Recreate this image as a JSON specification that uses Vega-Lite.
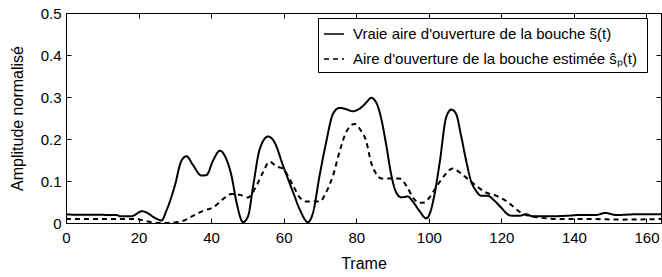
{
  "$schema": "https://vega.github.io/schema/vega-lite/v6.json",
  "autosize": "none",
  "width": 595,
  "height": 210,
  "padding": {"left": 66, "top": 13, "right": 1, "bottom": 54},
  "background": "white",
  "config": {
    "view": {"stroke": "black", "strokeWidth": 1},
    "font": "Liberation Sans",
    "axis": {"labelFont": "Liberation Sans", "titleFont": "Liberation Sans", "labelColor": "black", "titleColor": "black", "titleFontWeight": "normal", "labelFontSize": 15, "titleFontSize": 16, "domain": false, "tickColor": "black", "tickWidth": 1, "grid": false}
  },
  "datasets": {
    "curves": [
      {"trame": 0, "amp": 0.021, "serie": "vraie"},
      {"trame": 1, "amp": 0.02, "serie": "vraie"},
      {"trame": 14, "amp": 0.019, "serie": "vraie"},
      {"trame": 15, "amp": 0.016, "serie": "vraie"},
      {"trame": 18, "amp": 0.016, "serie": "vraie"},
      {"trame": 21, "amp": 0.028, "serie": "vraie"},
      {"trame": 25, "amp": 0.01, "serie": "vraie"},
      {"trame": 26.3, "amp": 0.006, "serie": "vraie"},
      {"trame": 27.7, "amp": 0.03, "serie": "vraie"},
      {"trame": 30, "amp": 0.089, "serie": "vraie"},
      {"trame": 31.8, "amp": 0.148, "serie": "vraie"},
      {"trame": 33.2, "amp": 0.159, "serie": "vraie"},
      {"trame": 35, "amp": 0.138, "serie": "vraie"},
      {"trame": 37.3, "amp": 0.113, "serie": "vraie"},
      {"trame": 38.7, "amp": 0.114, "serie": "vraie"},
      {"trame": 40.5, "amp": 0.148, "serie": "vraie"},
      {"trame": 42.4, "amp": 0.172, "serie": "vraie"},
      {"trame": 44.2, "amp": 0.152, "serie": "vraie"},
      {"trame": 45.6, "amp": 0.113, "serie": "vraie"},
      {"trame": 47, "amp": 0.049, "serie": "vraie"},
      {"trame": 48.8, "amp": 0.002, "serie": "vraie"},
      {"trame": 50.2, "amp": 0.017, "serie": "vraie"},
      {"trame": 51.6, "amp": 0.089, "serie": "vraie"},
      {"trame": 53.4, "amp": 0.176, "serie": "vraie"},
      {"trame": 55.7, "amp": 0.206, "serie": "vraie"},
      {"trame": 57.5, "amp": 0.192, "serie": "vraie"},
      {"trame": 59.8, "amp": 0.137, "serie": "vraie"},
      {"trame": 62.6, "amp": 0.073, "serie": "vraie"},
      {"trame": 64.4, "amp": 0.033, "serie": "vraie"},
      {"trame": 66.7, "amp": 0.002, "serie": "vraie"},
      {"trame": 68.1, "amp": 0.025, "serie": "vraie"},
      {"trame": 69.9, "amp": 0.113, "serie": "vraie"},
      {"trame": 71.7, "amp": 0.192, "serie": "vraie"},
      {"trame": 73.6, "amp": 0.26, "serie": "vraie"},
      {"trame": 75.4, "amp": 0.274, "serie": "vraie"},
      {"trame": 77.2, "amp": 0.271, "serie": "vraie"},
      {"trame": 79, "amp": 0.266, "serie": "vraie"},
      {"trame": 80.9, "amp": 0.272, "serie": "vraie"},
      {"trame": 82.8, "amp": 0.287, "serie": "vraie"},
      {"trame": 84.1, "amp": 0.298, "serie": "vraie"},
      {"trame": 85.5, "amp": 0.287, "serie": "vraie"},
      {"trame": 86.9, "amp": 0.248, "serie": "vraie"},
      {"trame": 88.3, "amp": 0.184, "serie": "vraie"},
      {"trame": 89.6, "amp": 0.117, "serie": "vraie"},
      {"trame": 91, "amp": 0.073, "serie": "vraie"},
      {"trame": 92.4, "amp": 0.061, "serie": "vraie"},
      {"trame": 94.2, "amp": 0.063, "serie": "vraie"},
      {"trame": 95.6, "amp": 0.051, "serie": "vraie"},
      {"trame": 97.4, "amp": 0.029, "serie": "vraie"},
      {"trame": 99.3, "amp": 0.011, "serie": "vraie"},
      {"trame": 100.2, "amp": 0.021, "serie": "vraie"},
      {"trame": 101.6, "amp": 0.069, "serie": "vraie"},
      {"trame": 103, "amp": 0.144, "serie": "vraie"},
      {"trame": 104.8, "amp": 0.252, "serie": "vraie"},
      {"trame": 106.2, "amp": 0.27, "serie": "vraie"},
      {"trame": 107.5, "amp": 0.26, "serie": "vraie"},
      {"trame": 108.9, "amp": 0.208, "serie": "vraie"},
      {"trame": 110.3, "amp": 0.148, "serie": "vraie"},
      {"trame": 111.6, "amp": 0.101, "serie": "vraie"},
      {"trame": 113, "amp": 0.077, "serie": "vraie"},
      {"trame": 114.4, "amp": 0.065, "serie": "vraie"},
      {"trame": 116.2, "amp": 0.065, "serie": "vraie"},
      {"trame": 118.1, "amp": 0.053, "serie": "vraie"},
      {"trame": 119.9, "amp": 0.037, "serie": "vraie"},
      {"trame": 121.7, "amp": 0.021, "serie": "vraie"},
      {"trame": 123.1, "amp": 0.017, "serie": "vraie"},
      {"trame": 124.9, "amp": 0.017, "serie": "vraie"},
      {"trame": 126.8, "amp": 0.021, "serie": "vraie"},
      {"trame": 128.6, "amp": 0.016, "serie": "vraie"},
      {"trame": 133.2, "amp": 0.016, "serie": "vraie"},
      {"trame": 137.7, "amp": 0.017, "serie": "vraie"},
      {"trame": 141.5, "amp": 0.019, "serie": "vraie"},
      {"trame": 146, "amp": 0.019, "serie": "vraie"},
      {"trame": 148.7, "amp": 0.024, "serie": "vraie"},
      {"trame": 151.6, "amp": 0.019, "serie": "vraie"},
      {"trame": 158, "amp": 0.021, "serie": "vraie"},
      {"trame": 164, "amp": 0.021, "serie": "vraie"},
      {"trame": 0, "amp": 0.011, "serie": "estimee"},
      {"trame": 1, "amp": 0.0095, "serie": "estimee"},
      {"trame": 19.4, "amp": 0.0095, "serie": "estimee"},
      {"trame": 21.3, "amp": 0.006, "serie": "estimee"},
      {"trame": 25.9, "amp": 0.0, "serie": "estimee"},
      {"trame": 31.4, "amp": 0.003, "serie": "estimee"},
      {"trame": 35, "amp": 0.017, "serie": "estimee"},
      {"trame": 37.8, "amp": 0.029, "serie": "estimee"},
      {"trame": 40.5, "amp": 0.037, "serie": "estimee"},
      {"trame": 43.3, "amp": 0.057, "serie": "estimee"},
      {"trame": 45.6, "amp": 0.069, "serie": "estimee"},
      {"trame": 47.9, "amp": 0.067, "serie": "estimee"},
      {"trame": 50.2, "amp": 0.061, "serie": "estimee"},
      {"trame": 52.5, "amp": 0.089, "serie": "estimee"},
      {"trame": 54.3, "amp": 0.121, "serie": "estimee"},
      {"trame": 56.1, "amp": 0.146, "serie": "estimee"},
      {"trame": 58, "amp": 0.135, "serie": "estimee"},
      {"trame": 59.8, "amp": 0.129, "serie": "estimee"},
      {"trame": 62.6, "amp": 0.089, "serie": "estimee"},
      {"trame": 64.4, "amp": 0.061, "serie": "estimee"},
      {"trame": 66.2, "amp": 0.051, "serie": "estimee"},
      {"trame": 69.9, "amp": 0.051, "serie": "estimee"},
      {"trame": 71.7, "amp": 0.073, "serie": "estimee"},
      {"trame": 73.6, "amp": 0.113, "serie": "estimee"},
      {"trame": 75.4, "amp": 0.17, "serie": "estimee"},
      {"trame": 77.2, "amp": 0.216, "serie": "estimee"},
      {"trame": 79.5, "amp": 0.236, "serie": "estimee"},
      {"trame": 81.3, "amp": 0.22, "serie": "estimee"},
      {"trame": 82.7, "amp": 0.196, "serie": "estimee"},
      {"trame": 84.1, "amp": 0.144, "serie": "estimee"},
      {"trame": 85.5, "amp": 0.117, "serie": "estimee"},
      {"trame": 86.9, "amp": 0.106, "serie": "estimee"},
      {"trame": 91.9, "amp": 0.106, "serie": "estimee"},
      {"trame": 93.8, "amp": 0.089, "serie": "estimee"},
      {"trame": 95.6, "amp": 0.061, "serie": "estimee"},
      {"trame": 97.4, "amp": 0.048, "serie": "estimee"},
      {"trame": 98.8, "amp": 0.049, "serie": "estimee"},
      {"trame": 100.2, "amp": 0.061, "serie": "estimee"},
      {"trame": 102, "amp": 0.085, "serie": "estimee"},
      {"trame": 104.3, "amp": 0.113, "serie": "estimee"},
      {"trame": 106.6, "amp": 0.13, "serie": "estimee"},
      {"trame": 108.4, "amp": 0.121, "serie": "estimee"},
      {"trame": 110.7, "amp": 0.105, "serie": "estimee"},
      {"trame": 113, "amp": 0.089, "serie": "estimee"},
      {"trame": 115.7, "amp": 0.073, "serie": "estimee"},
      {"trame": 118.5, "amp": 0.065, "serie": "estimee"},
      {"trame": 121.2, "amp": 0.053, "serie": "estimee"},
      {"trame": 123, "amp": 0.041, "serie": "estimee"},
      {"trame": 125.3, "amp": 0.025, "serie": "estimee"},
      {"trame": 127.6, "amp": 0.017, "serie": "estimee"},
      {"trame": 130.4, "amp": 0.013, "serie": "estimee"},
      {"trame": 135, "amp": 0.0095, "serie": "estimee"},
      {"trame": 144.2, "amp": 0.0095, "serie": "estimee"},
      {"trame": 153.4, "amp": 0.008, "serie": "estimee"},
      {"trame": 164, "amp": 0.0095, "serie": "estimee"}
    ]
  },
  "data": {"name": "curves"},
  "layer": [
    {
      "mark": {"type": "line", "color": "black", "strokeWidth": 2, "interpolate": "monotone", "clip": true},
      "encoding": {
        "x": {"field": "trame", "type": "quantitative", "scale": {"domain": [0, 164], "nice": false, "zero": false},
              "axis": {"orient": "bottom", "title": "Trame", "values": [0, 20, 40, 60, 80, 100, 120, 140, 160], "offset": -5, "tickSize": 5, "labelPadding": 7, "titlePadding": 10, "labelFlush": false}},
        "y": {"field": "amp", "type": "quantitative", "scale": {"domain": [0, 0.5], "nice": false},
              "axis": {"orient": "left", "title": "Amplitude normalisé", "values": [0, 0.1, 0.2, 0.3, 0.4, 0.5], "labelExpr": "datum.value == 0 ? '0' : format(datum.value, '.1f')", "offset": -5, "tickSize": 5, "labelPadding": 5, "titlePadding": 15, "labelFlush": false}},
        "strokeDash": {"field": "serie", "type": "nominal",
          "scale": {"domain": ["vraie", "estimee"], "range": [[1, 0], [5, 4]]},
          "legend": {"title": null, "orient": "none", "legendX": 252, "legendY": 5,
            "labelExpr": "datum.value == 'vraie' ? \"Vraie aire d'ouverture de la bouche  s\u0303(t)\" : \"Aire d'ouverture de la bouche estimée  \u015d\u209a(t)\u00a0\u00a0\u00a0\"",
            "symbolType": "stroke", "symbolSize": 400, "symbolStrokeWidth": 1.3, "symbolStrokeColor": "black",
            "labelFontSize": 15, "labelFont": "Liberation Sans", "labelColor": "black", "labelLimit": 400,
            "strokeColor": "black", "fillColor": "white", "padding": 5, "rowPadding": 6, "labelOffset": 8}}
      }
    },
    {
      "mark": {"type": "point", "opacity": 0},
      "encoding": {
        "x": {"field": "trame", "type": "quantitative", "axis": {"orient": "top", "title": null, "labels": false, "values": [0, 20, 40, 60, 80, 100, 120, 140, 160], "offset": -5, "tickSize": 5}},
        "y": {"field": "amp", "type": "quantitative", "axis": {"orient": "right", "title": null, "labels": false, "values": [0, 0.1, 0.2, 0.3, 0.4, 0.5], "offset": -5, "tickSize": 5}}
      }
    }
  ],
  "resolve": {"axis": {"x": "independent", "y": "independent"}}
}
